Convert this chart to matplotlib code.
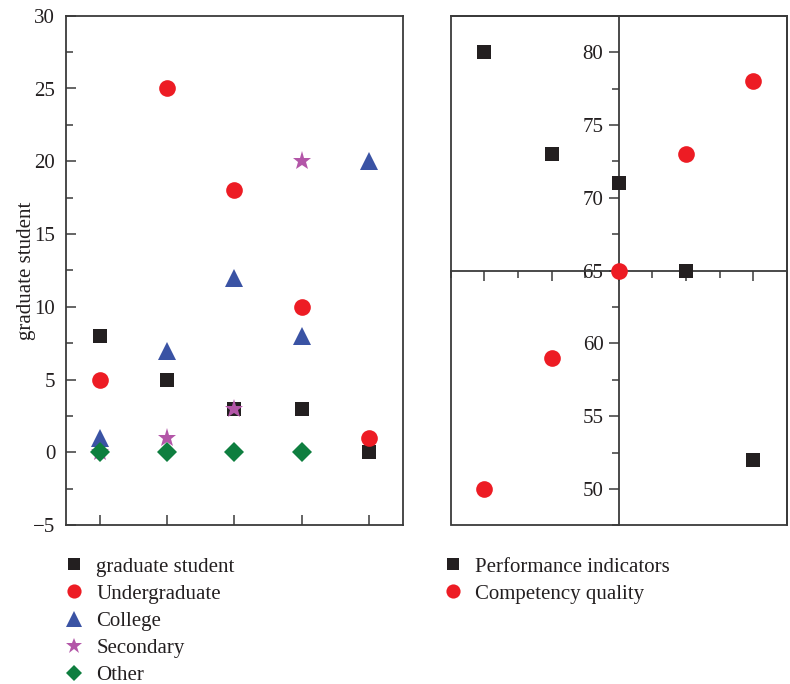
import numpy as np
import matplotlib
matplotlib.use("Agg")
import matplotlib.pyplot as plt
from matplotlib.patches import Rectangle
from matplotlib.ticker import MultipleLocator

plt.rcParams['font.family'] = ['Liberation Serif', 'DejaVu Serif']

# ---------- data ----------
categories = [1, 2, 3, 4, 5]
graduate = [8, 5, 3, 3, 0]
undergraduate = [5, 25, 18, 10, 1]
college = [1, 7, 12, 8, 20]
secondary = [0, 1, 3, 20, np.nan]
other = [0, 0, 0, 0, np.nan]

perf_x = [1, 2, 3, 4, 5]
performance = [80, 73, 71, 65, 52]
competency = [50, 59, 65, 73, 78]

left_labels = ['graduate student', 'Undergraduate', 'College', 'Secondary', 'Other']
right_labels = ['Performance indicators', 'Competency quality']

# ---------- style ----------
C_BLACK = '#231f20'
C_RED = '#ed1c24'
C_BLUE = '#3a53a4'
C_PURPLE = '#b356a8'
C_GREEN = '#0e7e3f'
SPINE = '#3a3a3a'
FS = 15

W, H = 790, 684
fig = plt.figure(figsize=(W / 100, H / 100), dpi=100)

def rect(x0, y0, x1, y1):
    return [x0 / W, 1 - y1 / H, (x1 - x0) / W, (y1 - y0) / H]

# ---------- left panel ----------
ax1 = fig.add_axes(rect(66.3, 15.7, 402.7, 525.3))
series = [
    (graduate, 's', C_BLACK, 10.5),
    (undergraduate, 'o', C_RED, 12),
    (college, '^', C_BLUE, 13),
    (secondary, '*', C_PURPLE, 14),
    (other, 'D', C_GREEN, 10),
]
handles = []
for vals, m, c, ms in series:
    h, = ax1.plot(categories, vals, linestyle='none', marker=m, color=c,
                  markersize=ms, markeredgewidth=0)
    handles.append(h)
ax1.set_xlim(0.5, 5.5)
ax1.set_ylim(-5, 30)
ax1.set_xticks(categories)
ax1.set_xticklabels([])
ax1.yaxis.set_major_locator(MultipleLocator(5))
ax1.yaxis.set_minor_locator(MultipleLocator(2.5))
ax1.tick_params(axis='both', which='both', direction='in', color=SPINE,
                top=False, right=False, width=1.1)
ax1.tick_params(axis='both', which='major', length=7)
ax1.tick_params(axis='y', which='minor', length=5)
ax1.tick_params(axis='y', labelsize=FS, pad=8, labelcolor='#231f20')
ax1.set_ylabel('graduate student', fontsize=FS, labelpad=-2, color='#231f20')
ax1.set_yticklabels(['\u22125' if t < 0 else str(int(t)) for t in ax1.get_yticks()])
for s in ax1.spines.values():
    s.set_color(SPINE)
    s.set_linewidth(1.3)

# ---------- right panel ----------
ax2 = fig.add_axes(rect(450.7, 15.7, 786.7, 525.3))
h1, = ax2.plot(perf_x, performance, linestyle='none', marker='s', color=C_BLACK,
               markersize=10.5, markeredgewidth=0, zorder=3)
h2, = ax2.plot(perf_x, competency, linestyle='none', marker='o', color=C_RED,
               markersize=12, markeredgewidth=0, zorder=4)
ax2.set_xlim(0.5, 5.5)
ax2.set_ylim(47.5, 82.5)
ax2.spines['left'].set_position(('data', 3))
ax2.spines['bottom'].set_position(('data', 65))
for s in ax2.spines.values():
    s.set_color(SPINE)
    s.set_linewidth(1.3)
ax2.add_patch(Rectangle((0, 0), 1, 1, transform=ax2.transAxes, fill=False,
                        edgecolor=SPINE, linewidth=1.3, clip_on=False, zorder=5))
ax2.set_xticks(perf_x)
ax2.set_xticklabels([])
ax2.xaxis.set_minor_locator(MultipleLocator(0.5))
ax2.yaxis.set_major_locator(MultipleLocator(5))
ax2.yaxis.set_minor_locator(MultipleLocator(2.5))
ax2.tick_params(axis='both', which='both', direction='out', color=SPINE,
                top=False, right=False, width=1.1)
ax2.tick_params(axis='both', which='major', length=7)
ax2.tick_params(axis='both', which='minor', length=5)
ax2.tick_params(axis='y', labelsize=FS, pad=4, labelcolor='#231f20')
ax2.set_yticks([50, 55, 60, 65, 70, 75, 80])

# ---------- legends ----------
leg_kw = dict(frameon=False, fontsize=FS, handlelength=1.0, handletextpad=0.55,
              labelspacing=0.365, markerscale=0.85, borderaxespad=0, borderpad=0,
              labelcolor='#231f20')
fig.legend(handles, left_labels, loc='upper left',
           bbox_to_anchor=(64 / W, 1 - 557 / H), **leg_kw)
fig.legend([h1, h2], right_labels, loc='upper left',
           bbox_to_anchor=(443 / W, 1 - 557 / H), **leg_kw)

fig.savefig('out.png', dpi=100)
